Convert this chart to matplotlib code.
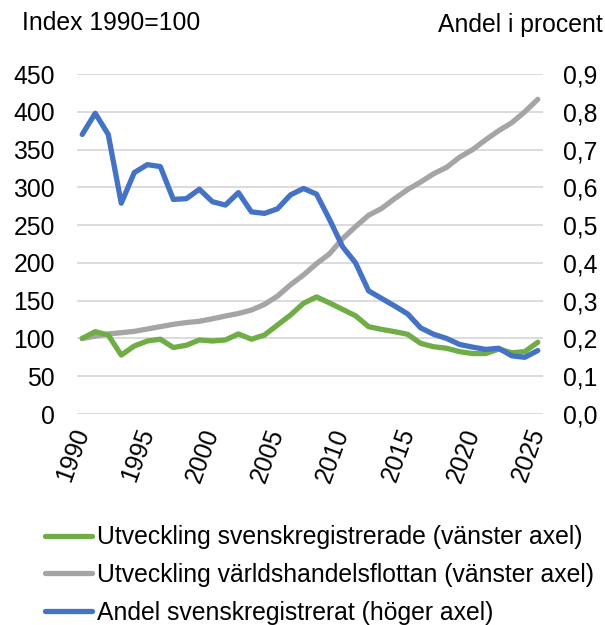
import matplotlib.pyplot as plt
from matplotlib.ticker import FuncFormatter

plt.rcParams['font.family'] = ['Liberation Sans', 'DejaVu Sans']

years = list(range(1990, 2026))

# index 1990=100, left axis
svensk = [100, 109, 104.5, 78, 90, 96.6, 99, 88, 91, 98, 96.6, 98, 106, 99, 104.5,
          117.8, 131, 146.5, 155, 147, 138.5, 130, 115.6, 112, 109, 105.5, 93.5,
          89, 87, 82.5, 80, 80, 86, 81, 82.5, 95]
varld = [100, 103, 106, 107.6, 109.4, 112.5, 115.6, 118.7, 121, 122.7, 126, 129.7,
         133, 137.6, 145, 156, 171, 184, 199, 212, 232, 248, 263, 272, 285, 297,
         307, 318, 326.5, 340, 350, 363, 375, 385.5, 400, 416.5]
# share in percent, right axis
andel = [0.74, 0.796, 0.74, 0.558, 0.639, 0.66, 0.655, 0.568, 0.57, 0.595, 0.562,
         0.553, 0.586, 0.535, 0.531, 0.543, 0.58, 0.597, 0.582, 0.515, 0.443, 0.40,
         0.326, 0.306, 0.286, 0.265, 0.228, 0.211, 0.20, 0.184, 0.177, 0.171,
         0.174, 0.154, 0.15, 0.168]

labels = ['Utveckling svenskregistrerade (vänster axel)',
          'Utveckling världshandelsflottan (vänster axel)',
          'Andel svenskregistrerat (höger axel)']

fs = 17.8
fig = plt.figure(figsize=(6.05, 6.25), dpi=100)
ax = fig.add_axes([77 / 605, 1 - 414 / 625, 466 / 605, 340 / 625])
ax2 = ax.twinx()

lw = 3.8
l1, = ax.plot(years, svensk, color='#70AD47', lw=lw, solid_capstyle='round', zorder=3)
l2, = ax.plot(years, varld, color='#A5A5A5', lw=lw, solid_capstyle='round', zorder=2)
l3, = ax2.plot(years, andel, color='#4472C4', lw=lw, solid_capstyle='round', zorder=3)

ax.set_xlim(1989.6, 2025.4)
ax.set_ylim(0, 450)
ax2.set_ylim(0, 0.9)
ax.set_yticks(range(0, 451, 50))
ax2.set_yticks([i / 10 for i in range(10)])
ax2.yaxis.set_major_formatter(FuncFormatter(lambda v, p: f'{v:.1f}'.replace('.', ',')))
ax.set_xticks(range(1990, 2026, 5))

ax.grid(axis='y', color='#D9D9D9', lw=1.3)
ax.set_axisbelow(True)
for a in (ax, ax2):
    for s in a.spines.values():
        s.set_visible(False)
    a.tick_params(length=0, labelsize=fs)
ax.tick_params(axis='y', pad=16)
ax2.tick_params(axis='y', pad=14.5)
ax.tick_params(axis='x', pad=11)
for t in ax.get_xticklabels():
    t.set_rotation(70)
    t.set_rotation_mode('anchor')
    t.set_ha('right')
    t.set_va('center')

fig.text(22 / 605, 1 - 23 / 625, 'Index 1990=100', fontsize=fs, ha='left', va='center')
fig.text(603 / 605, 1 - 25 / 625, 'Andel i procent', fontsize=fs, ha='right', va='center')

fig.legend([l1, l2, l3], labels, loc='center left', bbox_to_anchor=(45 / 605, 1 - 575 / 625),
           frameon=False, fontsize=fs, borderpad=0, borderaxespad=0,
           handlelength=1.9, handletextpad=0.2, labelspacing=0.55)

fig.savefig('out.png', dpi=100)
